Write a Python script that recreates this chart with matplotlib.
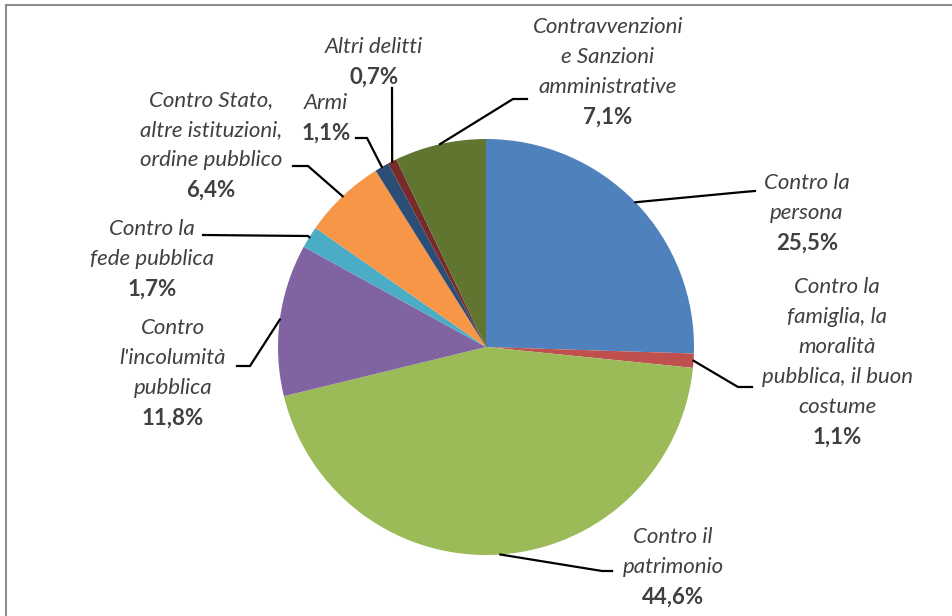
import numpy as np
import matplotlib
matplotlib.use("Agg")
import matplotlib.pyplot as plt
from matplotlib.patches import Rectangle

# ---- data ----
categories = [
    "Contro la\npersona",
    "Contro la\nfamiglia, la\nmoralità\npubblica, il buon\ncostume",
    "Contro il\npatrimonio",
    "Contro\nl'incolumità\npubblica",
    "Contro la\nfede pubblica",
    "Contro Stato,\naltre istituzioni,\nordine pubblico",
    "Armi",
    "Altri delitti",
    "Contravvenzioni\ne Sanzioni\namministrative",
]
values = [25.5, 1.1, 44.6, 11.8, 1.7, 6.4, 1.1, 0.7, 7.1]
colors = ["#4F81BD", "#C0504D", "#9BBB59", "#8064A2", "#4BACC6",
          "#F79646", "#2C4D75", "#772C2A", "#5F7530"]

# ---- layout (pixel coordinates, y measured from top) ----
W, H = 952, 616
CX, CY, R = 486, 347, 208
# label block: (center x, y of first line)
label_pos = [(807, 183), (837, 287), (673, 537), (173, 328), (152, 229),
             (211, 100), (326, 103), (374, 47), (608, 27)]
# leader knee points and end points
knees = [(743, 192), (738, 387), (602, 571), (250, 366), (308, 236),
         (308, 166), (367, 138), (392, 88), (513, 99)]
ends = [(755, 191), (752, 387), (612, 571), (237, 366), (203, 235),
        (293, 166), (356, 138), (392, 88), (527, 99)]

LINE = 30
TXT = "#404040"
FS = 16
FONT = "Lato"

fig = plt.figure(figsize=(W / 100, H / 100), dpi=100)
ax = fig.add_axes([0, 0, 1, 1])

def Y(y):
    return H - y

ax.pie(values, colors=colors, startangle=90, counterclock=False,
       center=(CX, Y(CY)), radius=R, frame=True,
       wedgeprops=dict(linewidth=0, edgecolor="none"))
ax.set_xlim(0, W)
ax.set_ylim(0, H)
ax.set_aspect("equal")
ax.axis("off")

total = sum(values)
cum = 0.0
for i, v in enumerate(values):
    mid = (cum + v / 2) / total * 360.0
    cum += v
    sx = CX + R * np.sin(np.radians(mid))
    sy = CY - R * np.cos(np.radians(mid))
    kx, ky = knees[i]
    ex, ey = ends[i]
    ax.plot([sx, kx, ex], [Y(sy), Y(ky), Y(ey)], color="black", lw=1.6,
            solid_joinstyle="miter", zorder=3)
    lx, ly = label_pos[i]
    lines = categories[i].split("\n")
    for j, t in enumerate(lines):
        ax.text(lx, Y(ly + j * LINE), t, ha="center", va="center",
                fontsize=FS, style="italic", color=TXT, family=FONT)
    pct = f"{v:.1f}".replace(".", ",") + "%"
    ax.text(lx, Y(ly + len(lines) * LINE), pct, ha="center", va="center",
            fontsize=FS, weight="bold", color=TXT, family=FONT)

# chart frame
ax.add_patch(Rectangle((6, -10), W + 20, Y(5) + 10, fill=False,
                       edgecolor="#8C8C8C", lw=1.5, clip_on=False))

fig.savefig("out.png", dpi=100, facecolor="white")
